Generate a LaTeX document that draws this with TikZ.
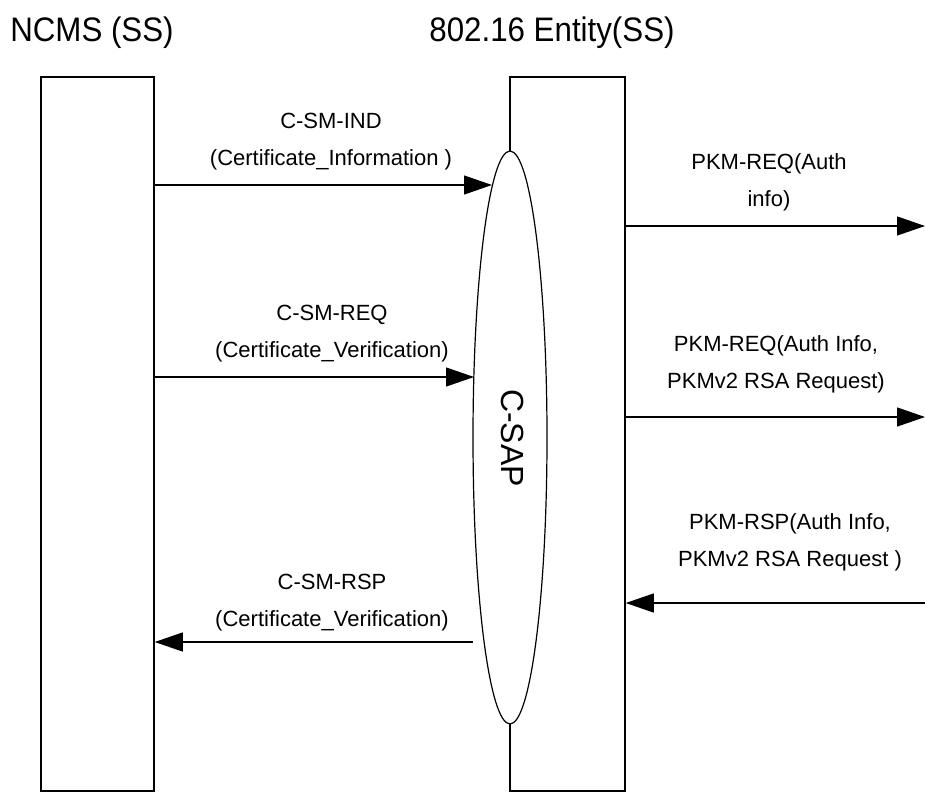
\documentclass[tikz,border=0pt]{standalone}
\usepackage{fontspec}
\setmainfont{Liberation Sans}
\usetikzlibrary{arrows.meta,shapes.geometric}
\begin{document}
\begin{tikzpicture}[x=1pt,y=-1pt,
  entity/.style={draw,line width=1.5pt,minimum width=113pt,minimum height=714pt,inner sep=0pt},
  msg/.style={line width=1.2pt,-{Triangle[length=28pt,width=19pt]}},
  lbl/.style={align=center,inner sep=0pt,font=\fontsize{22}{37}\selectfont},
  ttl/.style={inner sep=0pt,xscale=0.92,font=\fontsize{34}{40}\selectfont}]
\useasboundingbox (0,0) rectangle (925,792);
\fill[white] (0,0) rectangle (925,792);
% titles
\node[ttl] (t1) at (92,33) {NCMS (SS)};
\node[ttl] (t2) at (552,33) {802.16 Entity(SS)};
% entity boxes
\node[entity] (ncms) at (97.5,434) {};
\node[entity,minimum width=115pt] (ent) at (567.5,434) {};
% C-SAP ellipse
\node[ellipse,draw,line width=1.2pt,fill=white,minimum width=74pt,minimum height=573pt,inner sep=0pt] (sap) at (510,437.5) {};
\node[inner sep=0pt,rotate=-90,font=\fontsize{32}{38}\selectfont] (saplbl) at (513,438) {C-SAP};
% coordinates
\coordinate (a1s) at (ncms.east |- 0,185);
\coordinate (a1e) at (492,185);
\coordinate (a2s) at (ncms.east |- 0,377);
\coordinate (a2e) at (474,377);
\coordinate (a3s) at (473,642);
\coordinate (a3e) at (ncms.east |- 0,642);
\coordinate (b1s) at (ent.east |- 0,226);
\coordinate (b1e) at (925,226);
\coordinate (b2s) at (ent.east |- 0,417);
\coordinate (b2e) at (925,417);
\coordinate (b3s) at (925,603);
\coordinate (b3e) at (ent.east |- 0,603);
% messages
\draw[msg] (a1s) -- (a1e);
\draw[msg] (a2s) -- (a2e);
\draw[msg] (a3s) -- (a3e);
\draw[msg] (b1s) -- (b1e);
\draw[msg] (b2s) -- (b2e);
\draw[msg] (b3s) -- (b3e);
% labels
\node[lbl] (l1) at (331,141.5) {C-SM-IND\\(Certificate\_Information )};
\node[lbl] (l2) at (332,334) {C-SM-REQ\\(Certificate\_Verification)};
\node[lbl] (l3) at (332,602.5) {C-SM-RSP\\(Certificate\_Verification)};
\node[lbl] (r1) at (769,182.5) {PKM-REQ(Auth\\info)};
\node[lbl] (r2) at (776,364) {PKM-REQ(Auth Info,\\PKMv2 RSA Request)};
\node[lbl] (r3) at (790,542.5) {PKM-RSP(Auth Info,\\PKMv2 RSA Request )};
\end{tikzpicture}
\end{document}
